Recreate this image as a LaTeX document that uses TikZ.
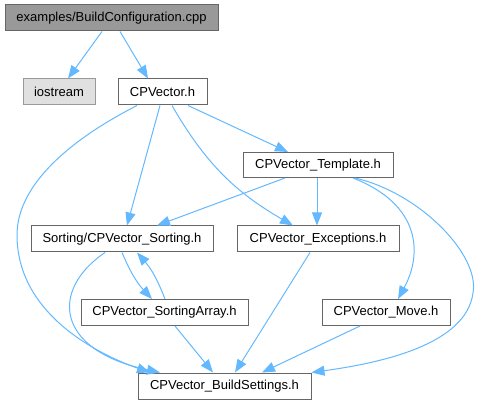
\documentclass[tikz,border=0pt]{standalone}
\usepackage{fontspec}
\setmainfont{Liberation Sans}
\usepackage{xcolor}
\definecolor{edgeblue}{HTML}{63B8FF}
\definecolor{boxline}{HTML}{666666}
\definecolor{rootfill}{HTML}{999999}
\definecolor{extfill}{HTML}{E0E0E0}
\definecolor{extline}{HTML}{999999}
\usepackage{tikz}
\usetikzlibrary{shapes,arrows.meta,positioning,calc}

\begin{document}
\begin{tikzpicture}[x=1pt,y=1pt,
  file/.style={draw=boxline,fill=white,line width=1pt,minimum height=26pt,inner sep=0pt,font=\fontsize{13}{15}\selectfont},
  rootfile/.style={file,fill=rootfill},
  extfile/.style={file,draw=extline,fill=extfill},
  dep/.style={draw=edgeblue,line width=1pt,-{Triangle[length=13pt,width=10pt]}}]
  \useasboundingbox (0,0) rectangle (480,405);
  % 文件
  \node[rootfile,minimum width=213pt] (cfg) at (111.5,387) {examples/BuildConfiguration.cpp};
  \node[extfile,minimum width=72pt] (ios) at (59,313) {iostream};
  \node[file,minimum width=89pt] (vec) at (162.5,313) {CPVector.h};
  \node[file,minimum width=150pt,minimum height=25pt] (tmpl) at (318,240) {CPVector\_Template.h};
  \node[file,minimum width=162pt] (exc) at (318,166) {CPVector\_Exceptions.h};
  \node[file,minimum width=182pt] (sort) at (122,166) {Sorting/CPVector\_Sorting.h};
  \node[file,minimum width=167pt] (sarr) at (164.5,92.5) {CPVector\_SortingArray.h};
  \node[file,minimum width=128pt] (move) at (386,92.5) {CPVector\_Move.h};
  \node[file,minimum width=173pt] (bset) at (224.5,19) {CPVector\_BuildSettings.h};
  % 第一层
  \draw[dep] ([xshift=-9.5]cfg.south) -- ([xshift=9]ios.north);
  \draw[dep] ([xshift=8.5]cfg.south) -- ([xshift=-14.5]vec.north);
  % CPVector.h
  \draw[dep] ([xshift=-2.5]vec.south) -- ([xshift=5]sort.north);
  \draw[dep] ([xshift=-25.5]vec.south) .. controls (60,260) and (17,215) .. (17,170)
    .. controls (17,90) and (100,50) .. ([xshift=-74.5]bset.north);
  \draw[dep] ([xshift=25.5]vec.south) -- ([xshift=-30]tmpl.north);
  \draw[dep] ([xshift=9.5]vec.south) to[out=-60,in=150] ([xshift=-25]exc.north);
  % 模板
  \draw[dep] ([xshift=-33]tmpl.south) -- ([xshift=35]sort.north);
  \draw[dep] ([xshift=-1]tmpl.south) -- ([xshift=-1]exc.north);
  \draw[dep] ([xshift=35]tmpl.south) .. controls (422,200) and (422,150) .. ([xshift=12]move.north);
  \draw[dep] ([xshift=37]tmpl.south) .. controls (420,212) and (480,150) .. (473,112)
    .. controls (466,60) and (380,42) .. (bset.north east);
  % 排序
  \draw[dep] (sort.south) to[bend right=10] ([xshift=-12.5]sarr.north);
  \draw[dep] ([xshift=0.5]sarr.north) to[bend right=10] ([xshift=15]sort.south);
  \draw[dep] ([xshift=-17]sort.south) .. controls (50,115) and (55,55) .. ([xshift=-64.5]bset.north);
  % 底层
  \draw[dep] ([xshift=10.5]sarr.south) -- ([xshift=-11.5]bset.north);
  \draw[dep] ([xshift=-8]exc.south) -- ([xshift=10.5]bset.north);
  \draw[dep] ([xshift=-26]move.south) -- ([xshift=37.5]bset.north);
\end{tikzpicture}
\end{document}
